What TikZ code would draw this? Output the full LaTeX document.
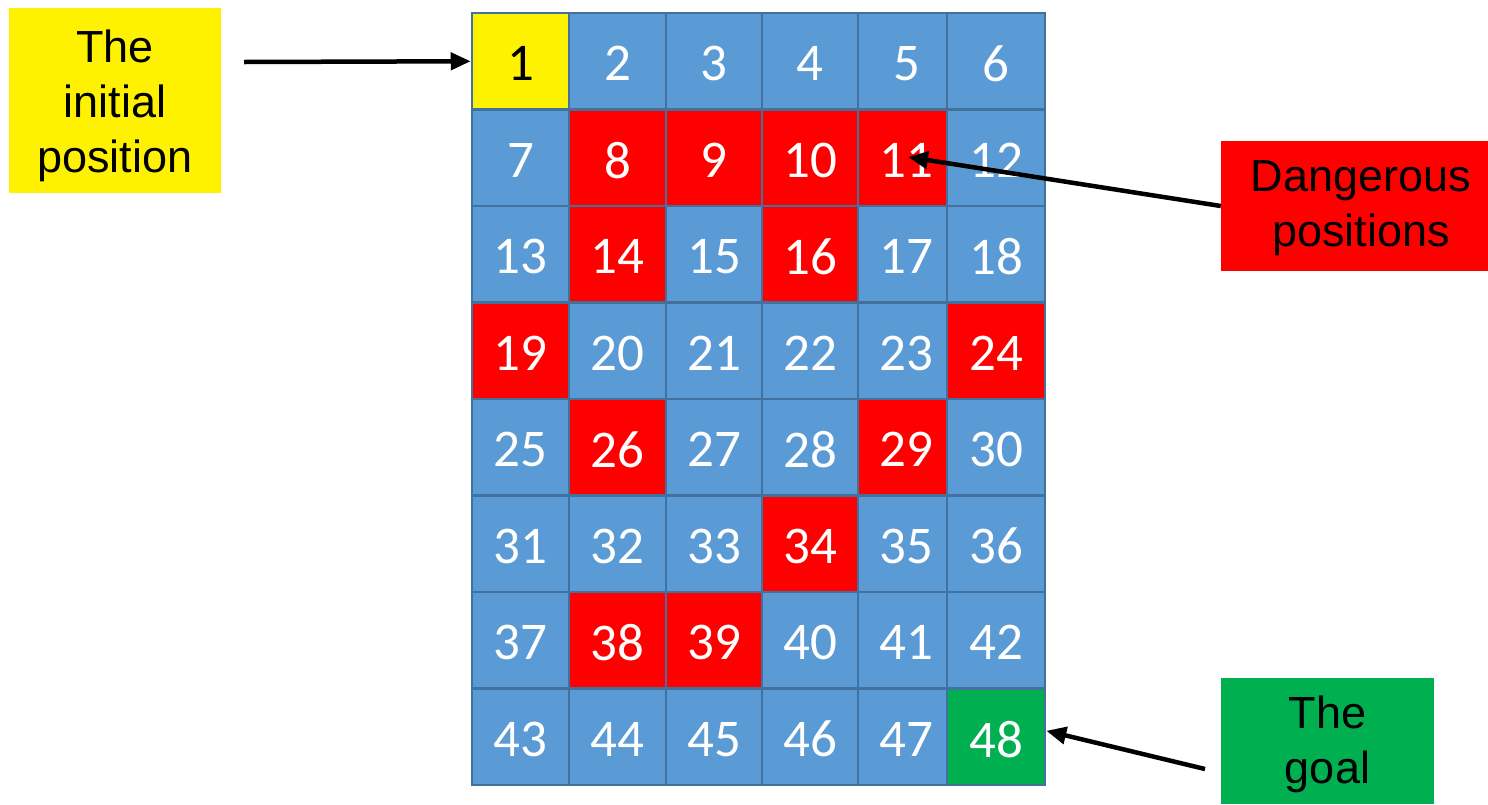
\documentclass[tikz,border=0pt]{standalone}
\usepackage{fontspec}
\setmainfont{Liberation Sans}
\newfontfamily\numfont{Carlito}
\usetikzlibrary{arrows.meta}
\definecolor{cellblue}{HTML}{5B9BD5}
\definecolor{cellline}{HTML}{41719C}
\definecolor{goalgreen}{HTML}{00B050}
\begin{document}
\begin{tikzpicture}[x=1pt,y=-1pt,
  cell/.style={draw=cellline,line width=2.5pt,inner sep=0pt},
  numtext/.style={inner sep=0pt,font=\numfont\fontsize{53}{53}\selectfont},
  labelbox/.style={inner sep=0pt},
  labeltext/.style={inner sep=0pt,align=center,text=black,
    font=\fontsize{45}{55}\selectfont},
  arr/.style={line width=4.5pt,-{Triangle[length=20pt,width=17pt]}}]
\useasboundingbox (0,0) rectangle (1488,804);
\foreach \n/\f/\t in {1/yellow/black,2/cellblue/white,3/cellblue/white,4/cellblue/white,5/cellblue/white,6/cellblue/white,
  7/cellblue/white,8/red/white,9/red/white,10/red/white,11/red/white,12/cellblue/white,
  13/cellblue/white,14/red/white,15/cellblue/white,16/red/white,17/cellblue/white,18/cellblue/white,
  19/red/white,20/cellblue/white,21/cellblue/white,22/cellblue/white,23/cellblue/white,24/red/white,
  25/cellblue/white,26/red/white,27/cellblue/white,28/cellblue/white,29/red/white,30/cellblue/white,
  31/cellblue/white,32/cellblue/white,33/cellblue/white,34/red/white,35/cellblue/white,36/cellblue/white,
  37/cellblue/white,38/red/white,39/red/white,40/cellblue/white,41/cellblue/white,42/cellblue/white,
  43/cellblue/white,44/cellblue/white,45/cellblue/white,46/cellblue/white,47/cellblue/white,48/goalgreen/white}{
  \pgfmathtruncatemacro\c{mod(\n-1,6)}
  \pgfmathtruncatemacro\r{int((\n-1)/6)}
  \pgfmathsetmacro\xl{{472,569,666,762,858,947,1045}[\c]}
  \pgfmathsetmacro\xr{{472,569,666,762,858,947,1045}[\c+1]}
  \pgfmathsetmacro\dx{{0,0,0,0,4,0}[\c]}
  \pgfmathsetmacro\yc{13+96.5*\r+48.25}
  \pgfmathsetmacro\xc{(\xl+\xr)/2}
  \pgfmathsetmacro\w{\xr-\xl}
  \node[cell,fill=\f,minimum width=\w pt,minimum height=96.5pt] (c\n) at (\xc,\yc) {};
  \node[numtext,text=\t] (t\n) at ([xshift=\dx pt,yshift=-2.5pt]c\n.center) {\n};
}
\node[labelbox,fill=yellow,minimum width=212pt,minimum height=185pt] (init) at (115,100.5) {};
\node[labeltext] (initt) at ([yshift=-5pt]init.center) {The\\initial\\position};
\node[labelbox,fill=red,minimum width=267pt,minimum height=130pt] (danger) at (1354.5,206) {};
\node[labeltext] (dangert) at ([xshift=6.5pt,yshift=-2pt]danger.center) {Dangerous\\positions};
\node[labelbox,fill=goalgreen,minimum width=213pt,minimum height=126pt] (goal) at (1327.5,741) {};
\node[labeltext] (goalt) at ([yshift=-3pt]goal.center) {The\\goal};
\coordinate (a1) at (244,62);
\coordinate (a2) at (908,157);
\coordinate (a3) at (1205,769);
\draw[arr] (a1) -- (c1.west);
\draw[arr] (danger.west) -- (a2);
\draw[arr] (a3) -- ([yshift=6pt]c48.east);
\end{tikzpicture}
\end{document}
